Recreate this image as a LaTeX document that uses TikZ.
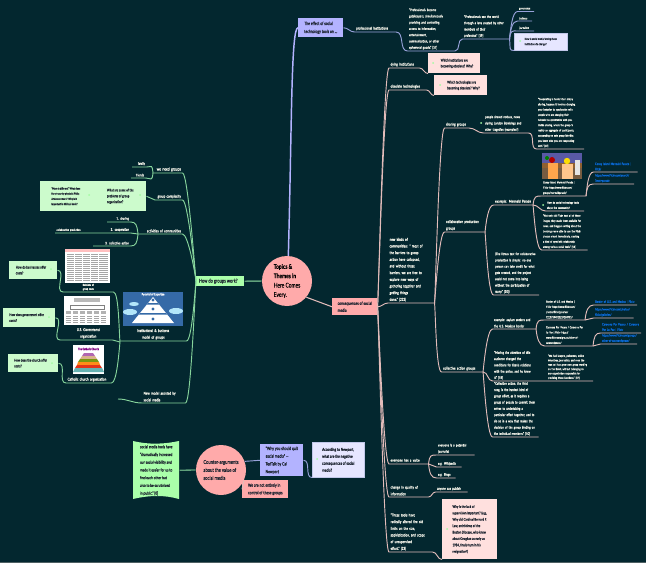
\documentclass[tikz,border=0pt]{standalone}
\usepackage{fontspec}
\setmainfont[FakeStretch=0.75,FakeBold=0.04]{Lato}
\definecolor{bgc}{HTML}{03272F}
\definecolor{lt}{HTML}{F2F2E8}
\definecolor{gline}{HTML}{86D49C}
\definecolor{pline}{HTML}{E2BCBA}
\definecolor{bline}{HTML}{98A2DA}
\definecolor{pkbox}{HTML}{FFAAAA}
\definecolor{pkpale}{HTML}{FFE0DE}
\definecolor{gnbox}{HTML}{AAFFAA}
\definecolor{gnpale}{HTML}{CCFBCC}
\definecolor{blbox}{HTML}{B3B3FF}
\definecolor{blpale}{HTML}{E6E6FF}
\definecolor{linkc}{HTML}{0A6AD8}
\definecolor{inkc}{HTML}{1C2430}
\newcommand{\padded}[3]{\hspace*{#1}\begin{tabular}{@{}l@{}}#3\end{tabular}\hspace*{#2}}
\tikzset{
  fa/.style={font=\fontsize{3.0}{5}\selectfont},
  fb/.style={font=\fontsize{2.7}{4.7}\selectfont},
  fc/.style={font=\fontsize{2.2}{3.9}\selectfont},
  fe/.style={font=\fontsize{2.2}{3.3}\selectfont},
  fq/.style={font=\fontsize{2.8}{4.4}\selectfont},
  tx/.style={anchor=south west,inner xsep=1pt,inner ysep=1pt,text=lt,align=left,text width=#1*0.75pt-2pt,execute at begin node={\rightskip=-40pt plus 1fil}},
  tl/.style={tx=#1,align=right,execute at begin node={\leftskip=-40pt plus 1fil\rightskip=0pt}},
  tc/.style={tx=#1,align=center,execute at begin node={\leftskip=-20pt plus 1fil\rightskip=-20pt plus 1fil}},
  lk/.style={tx=#1,text=linkc,font=\fontsize{2.5}{4}\selectfont},
  bx/.style 2 args={anchor=north west,minimum width=#1*0.75pt,minimum height=#2*0.75pt,inner sep=0pt,align=left,text=inkc},
  note/.style={circle,fill=gnpale!80!green,minimum size=1.5pt,inner sep=0pt},
  gl/.style={draw=gline,line width=0.7pt},
  pl/.style={draw=pline,line width=0.7pt},
  bl/.style={draw=bline,line width=0.7pt},
  rup/.style={out=84,in=180,out distance=7pt,in distance=4pt},
  rdn/.style={out=-84,in=180,out distance=7pt,in distance=4pt},
  lup/.style={out=96,in=0,out distance=7pt,in distance=4pt},
  ldn/.style={out=-96,in=0,out distance=7pt,in distance=4pt},
  sc/.style={out=0,in=180},
  ls/.style={out=180,in=0},
}
\begin{document}
\begin{tikzpicture}[x=0.75pt,y=-0.75pt]
\useasboundingbox (0,0) rectangle (646,563);
\fill[bgc] (0,0) rectangle (646,563);
\fill[black!30!bgc!70!white] (0,561.5) rectangle (646,563);

\node[circle,fill=pkbox,minimum size=37.5pt,inner sep=0pt,align=left,text=black,font=\fontsize{4.9}{7}\selectfont] (c0) at (287,281) {\bfseries Topics \&\\\bfseries Themes in\\Here Comes\\Every.};
\node[bx={48}{10},fill=gnbox,font=\fontsize{4.0}{5}\selectfont] (gw) at (196,276) {\padded{0pt}{3pt}{How do groups work?}};
\node[bx={45}{17},fill=pkbox,font=\fontsize{3.4}{5.2}\selectfont] (cs) at (332,298) {consequences of social\\media};
\node[bx={45}{19},fill=blbox,font=\fontsize{3.4}{6}\selectfont] (te) at (298,18) {The effect of social\\technology tools on \dots};

\draw[line width=1.1pt,blbox] (c0.87) .. controls (292,120) and (291,28) .. (te.west);
\draw[line width=1.1pt,gline!70!bgc] (c0.west) -- (gw.east);
\draw[line width=0.8pt,pline] (c0.-40) -- (cs.west);

\node[tx=41,fa] (pi) at (354.5,32) {professional institutions};
\node[tx=47,fb] (pg) at (407.5,51) {"Professionals become\\gatekeepers, simultaneously\\providing and controlling\\access to information,\\entertainment,\\communication, or other\\ephemeral goods." [57]};
\node[tx=46.5,fb] (ps) at (462.5,39) {"Professionals see the world\\through a lens created by other\\members of their\\profession" [59]};
\node[tx=16,fc] (go) at (517.5,11.5) {governance};
\node[tx=14,fc] (bu) at (517.5,21) {business};
\node[tx=16,fc] (jo) at (517.5,31) {journalism};
\node[bx={53}{17},fill=blpale,fc,draw=bline!60] (qs) at (514,33) {How is social media forcing these\\institutions to change?};
\node[note] (i0) at (520,41) {};

\draw[bl] (te.east) to[sc] (pi.south west) -- (pi.south east) to[sc] (pg.south west) -- (pg.south east) to[sc] (ps.south west) -- (ps.south east);
\draw[bl] (ps.south east) to[rup] (go.south west) -- (go.south east);
\draw[bl] (ps.south east) to[rup] (bu.south west) -- (bu.south east);
\draw[bl] (ps.south east) to[rup] (jo.south west) -- (jo.south east);
\draw[bl] (ps.south east) to[rdn] (qs.south west);

\node[tx=30,fa] (di) at (389,68) {dying institutions};
\node[tx=37,fa] (ot) at (389,90) {obsolete technologies};
\node[bx={52}{20},fill=pkpale,fq] (qi) at (428,53) {\padded{4pt}{0pt}{Which institutions are\\becoming obsolete? Why?}};
\node[bx={53}{20},fill=pkpale,fq] (qo) at (434,75) {\padded{4pt}{0pt}{Which technologies are\\becoming obsolete? Why?}};
\node[note] (i1) at (433,63) {};
\node[note] (i2) at (440,85) {};
\node[tx=46,fa] (nk) at (388,303) {\textbf{new kinds of}\\\textbf{communities:} " most of\\the barriers to group\\action have collapsed,\\and without those\\barriers, we are free to\\explore new ways of\\gathering together and\\getting things\\done." [222]};

\draw[pl] (cs.east) to[rup] (di.south west) -- (di.south east) to[sc] (qi.south west);
\draw[pl] (cs.east) to[rup] (ot.south west) -- (ot.south east) to[sc] (qo.south west);
\draw[pl] (cs.east) to[sc] (nk.south west) -- (nk.south east);

\node[tx=24,fa] (sg) at (444.5,128) {sharing groups};
\node[tx=44.5,fb] (pn) at (483.5,133) {people shared notices, news\\during London Bombings and\\other tragedies (examples?)};
\node[note] (i3) at (481,123) {};
\node[tx=47,fc] (cp1) at (536.5,149) {"Cooperating is harder than simply\\sharing, because it involves changing\\your behavior to synchronize with\\people who are changing their\\behavior to synchronize with you.\\Unlike sharing, where the group is\\mainly an aggregate of participants,\\cooperating on sets group identity:\\you know who you are cooperating\\with." [49]};
\node[tx=40,fa] (cl) at (444.5,232) {collaborative production\\groups};

\draw[pl] (nk.south east) to[rup] (sg.south west) -- (sg.south east) to[sc] (pn.south west) -- (pn.south east) to[sc] (cp1.south west) -- (cp1.south east);
\draw[pl] (nk.south east) to[rup] (cl.south west) -- (cl.south east);

\fill[black!25!brown] (542,153) rectangle (582,179);
\fill[blue!30!gray] (542,153) rectangle (582,163);
\fill[black!40!brown!70!gray] (542,168) rectangle (582,179);
\fill[red!70!black] (552,160) circle (3);
\fill[green!50!black] (547,158) circle (2);
\fill[yellow!80!orange] (567,161) circle (3.2);
\fill[orange!70!white] (548,163) rectangle (558,179);
\fill[orange!45!white] (562,164) rectangle (573,179);
\fill[white!80!gray] (575,160) rectangle (580,175);

\node[tx=39,fa] (mp) at (493.5,205) {example: Mermaid Parade};
\node[tx=44,fc] (mc) at (541.5,196) {Coney Island Mermaid Parade |\\Flickr https://www.flickr.com/\\groups/mermaidparade/};
\node[lk=43.5] (l1) at (593.5,172) {Coney Island Mermaid Parade |\\Flickr};
\node[lk=40] (l2) at (593.5,184) {https://www.flickr.com/search/\\?text=parade};
\node[tx=38,fc] (st) at (545.5,211) {How do social technology tools\\shape the community?};
\node[note] (i4) at (543,205) {};
\node[tx=45.5,fc] (nf) at (541.5,250) {"Not only did Flickr host all of these\\images, they made them available for\\news, and bloggers writing about the\\bombings were able to use the Flickr\\photos almost immediately, creating\\a kind of symbiotic relationship\\among various social tools." [53]};
\node[tx=45,fb] (lt) at (493.5,295) {(The litmus test for collaborative\\production is simple: no one\\person can take credit for what\\gets created, and the project\\could not come into being\\without the participation of\\many." [50])};

\draw[pl] (cl.south east) to[rup] (mp.south west) -- (mp.south east);
\draw[pl] (cl.south east) to[rdn] (lt.south west) -- (lt.south east);
\draw[pl] (mp.south east) to[rup] (mc.south west) -- (mc.south east);
\draw[pl] (mp.south east) to[sc] (st.south west) -- (st.south east);
\draw[pl] (mp.south east) to[rdn] (nf.south west) -- (nf.south east);
\draw[pl] (mc.south east) to[rup] (l1.south west) -- (l1.south east);
\draw[pl] (mc.south east) to[rup] (l2.south west) -- (l2.south east);

\node[tx=41,fa] (ca) at (441.5,372) {collective action groups};
\node[tx=43,fb] (as) at (492.5,329) {example: asylum seekers and\\the U.S. Mexican border};
\node[tx=40,fc] (bm) at (544.5,320) {Border of U.S. and Mexico |\\Flickr https://www.flickr.com/\\photos/flickr/galleries/\\72157594925224184795/};
\node[lk=43] (l3) at (593.5,305) {Border of U.S. and Mexico | Flickr};
\node[lk=39.5] (l4) at (593.5,318) {https://www.flickr.com/photos/\\flickr/galleries/};
\node[tx=48,fc] (cv) at (544.5,346) {Caravana Por Pecera / Caravana Por\\La Paz | Flickr https://\\www.flickr.com/groups/other-of-\\caravan4peace/};
\node[lk=40] (l5) at (600.5,333) {Caravana Por Pecera / Caravana\\Por La Paz | Flickr};
\node[lk=36] (l6) at (600.5,344) {https://www.flickr.com/groups/\\other-of-caravan4peace/};
\node[tx=44,fb] (mv) at (492.5,381) {"Moving the attention of this\\audience changed the\\conditions for Ilsan's relations\\with the police, and he knew\\it." [59]};
\node[tx=46,fe] (wl) at (546.5,381) {"We had lawyers, policemen, online\\detectives, journalists, and even the\\man call too grow own group working\\on the ticket, without belonging to\\any organization responsible for\\providing those functions." [87]};
\node[tx=45.5,fb] (cg) at (492.5,437) {"Collective action, the third\\rung, is the hardest kind of\\group effort, as it requires a\\group of people to commit them\\selves to undertaking a\\particular effort together, and to\\do so in a way that makes the\\decision of the group binding on\\the individual members." [50]};

\draw[pl] (nk.south east) to[rdn] (ca.south west) -- (ca.south east);
\draw[pl] (ca.south east) to[rup] (as.south west) -- (as.south east);
\draw[pl] (ca.south east) to[sc] (mv.south west) -- (mv.south east) -- (wl.south west) -- (wl.south east);
\draw[pl] (ca.south east) to[rdn] (cg.south west) -- (cg.south east);
\draw[pl] (as.south east) to[rup] (bm.south west) -- (bm.south east);
\draw[pl] (as.south east) to[rdn] (cv.south west) -- (cv.south east);
\draw[pl] (bm.south east) to[rup] (l3.south west) -- (l3.south east);
\draw[pl] (bm.south east) to[sc] (l4.south west) -- (l4.south east);
\draw[pl] (cv.south east) to[rup] (l5.south west) -- (l5.south east);
\draw[pl] (cv.south east) to[sc] (l6.south west) -- (l6.south east);

\node[tx=39,fa] (ev) at (389,464) {everyone has a voice};
\node[tx=37.5,fb] (ej) at (436.5,455) {everyone is a potential\\journalist};
\node[tx=24.5,fb] (ew) at (436.5,467) {e.g. Wikipedia};
\node[tx=18.5,fb] (eb) at (436.5,478) {e.g. Blogs};
\node[tx=39,fa] (cq) at (389,497) {change in quality of\\information};
\node[tx=31.5,fb] (ep) at (435.5,492) {anyone can publish};
\node[tx=43,fa] (tt) at (389,552) {"These tools have\\radically altered the old\\limits on the size,\\sophistication, and scope\\of unsupervised\\effort." [23]};
\node[bx={55}{60},fill=pkpale,font=\fontsize{2.8}{4.8}\selectfont] (qw) at (442,499) {Why is the lack of\\supervision important? (e.g.,\\Why did Cardinal Bernard F.\\Law, archbishop of the\\Boston Diocese, who knew\\about Geoghan as early as\\1984, finally turn in his\\resignation?)};
\node[note] (i5) at (447,529) {};

\draw[pl] (cs.east) to[rdn] (ev.south west) -- (ev.south east);
\draw[pl] (ev.south east) to[rup] (ej.south west) -- (ej.south east);
\draw[pl] (ev.south east) to[sc] (ew.south west) -- (ew.south east);
\draw[pl] (ev.south east) to[rdn] (eb.south west) -- (eb.south east);
\draw[pl] (cs.east) to[rdn] (cq.south west) -- (cq.south east) to[sc] (ep.south west) -- (ep.south east);
\draw[pl] (cs.east) to[rdn] (tt.south west) -- (tt.south east) to[sc] (qw.south west);

\node[tl=29,font=\fontsize{3.3}{5}\selectfont] (wn) at (153,173) {we need groups};
\node[tl=14,fb] (fam) at (132,167) {family};
\node[tl=14,fb] (fr) at (131,178) {friends};
\node[tl=27,fa] (gc) at (155,200) {group complexity};
\node[bx={55}{30},fill=gnpale,fc] (q1) at (40,181) {\padded{0pt}{3pt}{"More is different" What does\\the phrase by physicist Philip\\Anderson mean? Why is it\\important in Shirky's book?}};
\node[bx={52}{30},fill=gnpale,fq] (q2) at (94,181) {What are some of the\\problems of group\\organization?};
\node[note] (i6) at (89,195) {};
\node[note] (i7) at (140,195) {};
\node[tl=44,fa] (ac) at (138,234) {activities of communities};
\node[tl=23,fb] (s1) at (107,222) {1. sharing};
\node[tl=42,fb] (s2) at (88,233) {2. cooperation};
\node[tx=33,fc] (s2a) at (55,233) {collaborative production};
\node[tl=37,fb] (s3) at (93,246) {3. collective action};

\draw[gl] (gw.west) to[lup] (wn.south east) -- (wn.south west);
\draw[gl] (wn.south west) to[lup] (fam.south east) -- (fam.south west);
\draw[gl] (wn.south west) to[ldn] (fr.south east) -- (fr.south west);
\draw[gl] (gw.west) to[lup] (gc.south east) -- (gc.south west) to[ls] (q2.east);
\draw[gl] (gw.west) to[lup] (ac.south east) -- (ac.south west);
\draw[gl] (ac.south west) to[lup] (s1.south east) -- (s1.south west);
\draw[gl] (ac.south west) to[ls] (s2.south east) -- (s2.south west) -- (s2a.south east) -- (s2a.south west);
\draw[gl] (ac.south west) to[ldn] (s3.south east) -- (s3.south west);

\fill[white] (65,249) rectangle (110,283);
\fill[red!25!white] (65,249) rectangle (110,252);
\foreach \ya in {254,256,...,280} \draw[gray!70,line width=0.4pt] (67,\ya) -- (108,\ya);
\foreach \xa in {74,82,90,98} \draw[white,line width=0.5pt] (\xa,253) -- (\xa,282);

\fill[white] (64,296) rectangle (110,325);
\fill[gray!55] (74,298) rectangle (100,302);
\draw[gray,line width=0.3pt] (70,305) rectangle (104,309);
\foreach \xa in {66,73,80,87,94,101} {
  \fill[gray!60] (\xa,311) rectangle ++(5,3);
  \foreach \ya in {316,318,320,322} \draw[gray!70,line width=0.3pt] (\xa,\ya) -- ++(5,0);
}

\fill[white] (73,345) rectangle (104,374);
\node[font=\fontsize{2.3}{2.3}\selectfont\bfseries,text=violet,inner sep=0pt] (ct) at (88.5,349) {The Catholic Church};
\fill[violet!60!white] (84,353) -- (93,353) -- (95,356) -- (82,356) -- cycle;
\fill[brown!60!white] (82,356) -- (95,356) -- (97,359) -- (80,359) -- cycle;
\fill[olive!70!green] (80,359) -- (97,359) -- (99,362) -- (78,362) -- cycle;
\fill[orange!90!white] (78,362) -- (99,362) -- (100,365) -- (77,365) -- cycle;
\fill[red!60!brown] (77,365) -- (100,365) -- (102,368) -- (75,368) -- cycle;
\fill[teal!60!white] (75,368) -- (102,368) -- (104,372) -- (73,372) -- cycle;

\fill[cyan!50!blue!80!black] (123,292) rectangle (183,326);
\fill[cyan!30!white] (130,312) ellipse (7 and 3);
\fill[cyan!30!white] (176,311) ellipse (7 and 3);
\fill[cyan!30!white] (134,304) ellipse (5 and 2);
\fill[white] (153,297) -- (174,323) -- (132,323) -- cycle;
\fill[cyan!50!blue!80!black] (148,303) -- (158,303) -- (159,304.5) -- (147,304.5) -- cycle;
\fill[cyan!50!blue!80!black] (140,313) -- (166,313) -- (167,314.5) -- (139,314.5) -- cycle;
\fill[cyan!50!blue!80!black] (153,300) circle (1.6);
\fill[cyan!50!blue!80!black] (153,309) circle (1.6);
\fill[cyan!50!blue!80!black] (153,319) circle (1.6);
\node[font=\fontsize{2.5}{2.5}\selectfont,text=white,inner sep=0pt] (pe) at (153,294.5) {Pyramid of Expertise};

\coordinate (j1) at (120,342);
\coordinate (j2) at (60,340);
\coordinate (nm0) at (118,399);
\node[tc=66,fa] (ib) at (120,341) {institutional \& business\\model of groups};
\node[tc=50,font=\fontsize{2.1}{3}\selectfont] (tc1) at (63,292) {Relations of\\group costs};
\node[tc=48,fa] (us) at (64,340) {U.S. Government\\organization};
\node[tx=45,fa] (cc) at (66,383) {Catholic church organization};
\node[tx=43,fa] (nm) at (142,403) {New model assisted by\\social media};
\node[bx={48}{18},fill=gnpale,fq] (gb) at (9,261) {\padded{0pt}{3.5pt}{How do businesses offer\\costs?}};
\node[bx={52}{19},fill=gnpale,fq] (gg) at (3,308) {\padded{0pt}{4pt}{How does government offer\\costs?}};
\node[bx={50}{18},fill=gnpale,fq] (gh) at (8,354) {\padded{0pt}{4pt}{How does the church offer\\costs?}};
\node[note] (i8) at (51,269) {};
\node[note] (i9) at (49,317) {};
\node[note] (i10) at (52,363) {};

\draw[gl] (gw.west) to[ldn] (ib.south east) -- (ib.south west);
\draw[gl] (gw.west) to[ldn] (nm.south east) -- (nm.south west) to[ls] (nm0);
\draw[gl] (j1) to[lup] (tc1.south east) -- (tc1.south west) to[ls] (gb.east);
\draw[gl] (j1) to[ls] (us.south east) -- (us.south west) -- (j2) to[ls] (gg.east);
\draw[gl] (j1) to[ldn] (cc.south east) -- (cc.south west) to[ls] (gh.east);

\node[circle,fill=pkbox,minimum size=37.5pt,inner sep=0pt,align=left,text=inkc,font=\fontsize{4.1}{6}\selectfont] (c1) at (221,470) {Counter-arguments\\about the value of\\social media};
\fill[gnbox] (133,441) .. controls (150,445) and (165,444) .. (179,441) -- (179,499) .. controls (165,495) and (150,495) .. (133,499) -- cycle;
\node[bx={46}{58},font=\fontsize{3.2}{5.8}\selectfont] (sm) at (133,441) {social media tools have\\"dramatically increased\\our social visibility and\\made it easier for us to\\find each other but\\also to be scrutinized\\in public." [0]};
\node[bx={43}{32},fill=blbox,font=\fontsize{3.4}{5.8}\selectfont] (wy) at (260,444) {"Why you should quit\\social media" ---\\TedTalk by Cal\\Newport};
\node[bx={46}{18},fill=pkbox,font=\fontsize{3.4}{5.6}\selectfont] (wa) at (242,480) {We are not entirely in\\control of these groups};
\node[bx={52}{35},fill=blpale,font=\fontsize{3.2}{5.2}\selectfont,draw=bline!60] (an) at (312,442) {According to Newport,\\what are the negative\\consequences of social\\media?};
\node[note] (i11) at (317,459) {};

\draw[line width=1pt,gline!70!bgc] (sm.east) -- (c1.west);
\draw[bl] (c1.20) -- (wy.west);
\draw[pl] (c1.-25) -- (wa.west);
\draw[bl] (wy.east) to[sc] (an.south west);
\end{tikzpicture}
\end{document}
